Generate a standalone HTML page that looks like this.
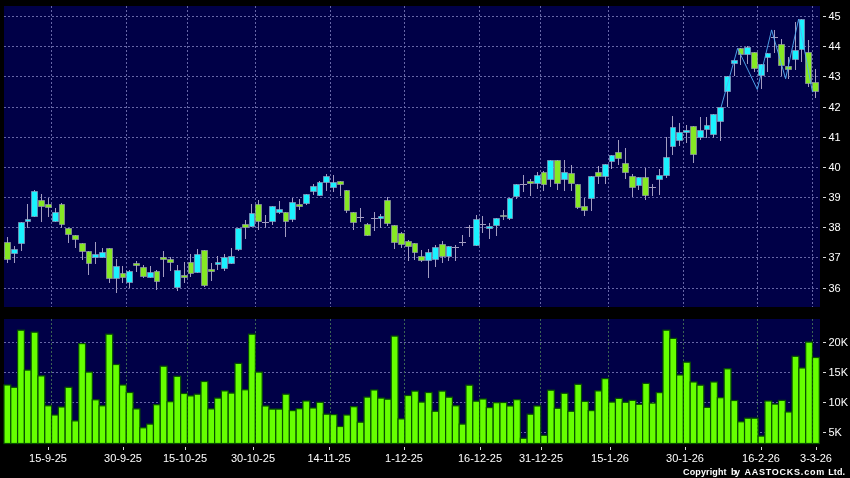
<!DOCTYPE html>
<html><head><meta charset="utf-8"><title>Chart</title>
<style>html,body{margin:0;padding:0;background:#000;}body{width:850px;height:478px;overflow:hidden;}svg{display:block;}text{font-family:"Liberation Sans",Arial,sans-serif;fill:#fff;}</style></head><body>
<svg width="850" height="478" viewBox="0 0 850 478">
<rect x="0" y="0" width="850" height="478" fill="#000"/>
<rect x="4" y="6" width="816" height="301" fill="#000047"/>
<rect x="4" y="319" width="816" height="124.5" fill="#000047"/>
<path d="M4 16.5H820M4 46.5H820M4 76.5H820M4 107.5H820M4 137.5H820M4 167.5H820M4 197.5H820M4 227.5H820M4 257.5H820M4 288.5H820M4 342.5H820M4 372.5H820M4 402.5H820M4 432.5H820M51.5 6V307M51.5 319V443.5M126.5 6V307M126.5 319V443.5M187.5 6V307M187.5 319V443.5M255.5 6V307M255.5 319V443.5M330.5 6V307M330.5 319V443.5M404.5 6V307M404.5 319V443.5M479.5 6V307M479.5 319V443.5M540.5 6V307M540.5 319V443.5M608.5 6V307M608.5 319V443.5M683.5 6V307M683.5 319V443.5M757.5 6V307M757.5 319V443.5M812.5 6V307M812.5 319V443.5" stroke="#6666a6" stroke-width="1" stroke-dasharray="2 2" fill="none" shape-rendering="crispEdges"/>
<g fill="#66ff00" stroke="#085000" stroke-width="1.2"><rect x="4.00" y="385.0" width="6.794" height="58.5"/><rect x="10.79" y="387.3" width="6.794" height="56.2"/><rect x="17.59" y="330.2" width="6.794" height="113.3"/><rect x="24.38" y="370.1" width="6.794" height="73.4"/><rect x="31.18" y="332.2" width="6.794" height="111.3"/><rect x="37.97" y="375.9" width="6.794" height="67.6"/><rect x="44.76" y="405.8" width="6.794" height="37.7"/><rect x="51.56" y="415.0" width="6.794" height="28.5"/><rect x="58.35" y="407.0" width="6.794" height="36.5"/><rect x="65.15" y="387.3" width="6.794" height="56.2"/><rect x="71.94" y="420.9" width="6.794" height="22.6"/><rect x="78.73" y="343.6" width="6.794" height="99.9"/><rect x="85.53" y="372.1" width="6.794" height="71.4"/><rect x="92.32" y="399.8" width="6.794" height="43.7"/><rect x="99.12" y="405.8" width="6.794" height="37.7"/><rect x="105.91" y="334.2" width="6.794" height="109.3"/><rect x="112.70" y="364.5" width="6.794" height="79.0"/><rect x="119.50" y="385.0" width="6.794" height="58.5"/><rect x="126.29" y="392.5" width="6.794" height="51.0"/><rect x="133.09" y="408.9" width="6.794" height="34.6"/><rect x="139.88" y="427.8" width="6.794" height="15.7"/><rect x="146.67" y="424.1" width="6.794" height="19.4"/><rect x="153.47" y="404.7" width="6.794" height="38.8"/><rect x="160.26" y="366.2" width="6.794" height="77.3"/><rect x="167.06" y="401.7" width="6.794" height="41.8"/><rect x="173.85" y="376.3" width="6.794" height="67.2"/><rect x="180.64" y="393.5" width="6.794" height="50.0"/><rect x="187.44" y="395.9" width="6.794" height="47.6"/><rect x="194.23" y="394.2" width="6.794" height="49.3"/><rect x="201.03" y="381.5" width="6.794" height="62.0"/><rect x="207.82" y="408.9" width="6.794" height="34.6"/><rect x="214.61" y="398.1" width="6.794" height="45.4"/><rect x="221.41" y="390.9" width="6.794" height="52.6"/><rect x="228.20" y="393.1" width="6.794" height="50.4"/><rect x="235.00" y="363.4" width="6.794" height="80.1"/><rect x="241.79" y="389.8" width="6.794" height="53.7"/><rect x="248.58" y="334.2" width="6.794" height="109.3"/><rect x="255.38" y="372.1" width="6.794" height="71.4"/><rect x="262.17" y="406.0" width="6.794" height="37.5"/><rect x="268.97" y="409.1" width="6.794" height="34.4"/><rect x="275.76" y="409.1" width="6.794" height="34.4"/><rect x="282.55" y="394.2" width="6.794" height="49.3"/><rect x="289.35" y="410.6" width="6.794" height="32.9"/><rect x="296.14" y="408.7" width="6.794" height="34.8"/><rect x="302.94" y="401.0" width="6.794" height="42.5"/><rect x="309.73" y="408.0" width="6.794" height="35.5"/><rect x="316.52" y="402.3" width="6.794" height="41.2"/><rect x="323.32" y="414.2" width="6.794" height="29.3"/><rect x="330.11" y="414.6" width="6.794" height="28.9"/><rect x="336.91" y="426.5" width="6.794" height="17.0"/><rect x="343.70" y="415.0" width="6.794" height="28.5"/><rect x="350.49" y="406.7" width="6.794" height="36.8"/><rect x="357.29" y="422.2" width="6.794" height="21.3"/><rect x="364.08" y="397.1" width="6.794" height="46.4"/><rect x="370.88" y="390.0" width="6.794" height="53.5"/><rect x="377.67" y="398.1" width="6.794" height="45.4"/><rect x="384.46" y="399.2" width="6.794" height="44.3"/><rect x="391.26" y="336.1" width="6.794" height="107.4"/><rect x="398.05" y="418.9" width="6.794" height="24.6"/><rect x="404.85" y="395.5" width="6.794" height="48.0"/><rect x="411.64" y="391.1" width="6.794" height="52.4"/><rect x="418.43" y="402.1" width="6.794" height="41.4"/><rect x="425.23" y="392.5" width="6.794" height="51.0"/><rect x="432.02" y="411.3" width="6.794" height="32.2"/><rect x="438.82" y="391.1" width="6.794" height="52.4"/><rect x="445.61" y="397.2" width="6.794" height="46.3"/><rect x="452.40" y="405.8" width="6.794" height="37.7"/><rect x="459.20" y="424.1" width="6.794" height="19.4"/><rect x="465.99" y="385.2" width="6.794" height="58.3"/><rect x="472.79" y="401.2" width="6.794" height="42.3"/><rect x="479.58" y="399.0" width="6.794" height="44.5"/><rect x="486.37" y="407.6" width="6.794" height="35.9"/><rect x="493.17" y="402.7" width="6.794" height="40.8"/><rect x="499.96" y="402.5" width="6.794" height="41.0"/><rect x="506.76" y="406.0" width="6.794" height="37.5"/><rect x="513.55" y="399.7" width="6.794" height="43.8"/><rect x="520.34" y="438.3" width="6.794" height="5.2"/><rect x="527.14" y="414.2" width="6.794" height="29.3"/><rect x="533.93" y="406.0" width="6.794" height="37.5"/><rect x="540.73" y="435.3" width="6.794" height="8.2"/><rect x="547.52" y="390.2" width="6.794" height="53.3"/><rect x="554.31" y="408.3" width="6.794" height="35.2"/><rect x="561.11" y="393.3" width="6.794" height="50.2"/><rect x="567.90" y="411.3" width="6.794" height="32.2"/><rect x="574.70" y="384.3" width="6.794" height="59.2"/><rect x="581.49" y="401.4" width="6.794" height="42.1"/><rect x="588.28" y="410.6" width="6.794" height="32.9"/><rect x="595.08" y="390.9" width="6.794" height="52.6"/><rect x="601.87" y="378.6" width="6.794" height="64.9"/><rect x="608.67" y="402.1" width="6.794" height="41.4"/><rect x="615.46" y="398.4" width="6.794" height="45.1"/><rect x="622.25" y="402.3" width="6.794" height="41.2"/><rect x="629.05" y="400.4" width="6.794" height="43.1"/><rect x="635.84" y="404.3" width="6.794" height="39.2"/><rect x="642.64" y="383.4" width="6.794" height="60.1"/><rect x="649.43" y="403.1" width="6.794" height="40.4"/><rect x="656.22" y="392.6" width="6.794" height="50.9"/><rect x="663.02" y="330.2" width="6.794" height="113.3"/><rect x="669.81" y="338.4" width="6.794" height="105.1"/><rect x="676.61" y="375.0" width="6.794" height="68.5"/><rect x="683.40" y="362.2" width="6.794" height="81.3"/><rect x="690.19" y="382.0" width="6.794" height="61.5"/><rect x="696.99" y="385.2" width="6.794" height="58.3"/><rect x="703.78" y="407.4" width="6.794" height="36.1"/><rect x="710.58" y="382.0" width="6.794" height="61.5"/><rect x="717.37" y="397.7" width="6.794" height="45.8"/><rect x="724.16" y="368.8" width="6.794" height="74.7"/><rect x="730.96" y="400.5" width="6.794" height="43.0"/><rect x="737.75" y="421.8" width="6.794" height="21.7"/><rect x="744.55" y="418.2" width="6.794" height="25.3"/><rect x="751.34" y="418.2" width="6.794" height="25.3"/><rect x="758.13" y="436.1" width="6.794" height="7.4"/><rect x="764.93" y="401.0" width="6.794" height="42.5"/><rect x="771.72" y="404.1" width="6.794" height="39.4"/><rect x="778.52" y="400.4" width="6.794" height="43.1"/><rect x="785.31" y="412.0" width="6.794" height="31.5"/><rect x="792.10" y="356.3" width="6.794" height="87.2"/><rect x="798.90" y="368.0" width="6.794" height="75.5"/><rect x="805.69" y="342.1" width="6.794" height="101.4"/><rect x="812.49" y="357.5" width="6.794" height="86.0"/></g>
<path d="M51.5 319V443.5M126.5 319V443.5M187.5 319V443.5M255.5 319V443.5M330.5 319V443.5M404.5 319V443.5M479.5 319V443.5M540.5 319V443.5M608.5 319V443.5M683.5 319V443.5M757.5 319V443.5M812.5 319V443.5" stroke="#186010" stroke-opacity="0.55" stroke-width="1" stroke-dasharray="2 2" fill="none" shape-rendering="crispEdges"/>
<path d="M7.5 237V263M14.5 246V263M21.5 222V251M27.5 204V228M34.5 190V217M41.5 194V222M48.5 198V217M55.5 208V222M61.5 203V228M68.5 228V243M75.5 235V248M82.5 243V260M88.5 251V275M95.5 242V264M102.5 248V258M109.5 248V283M116.5 259V293M122.5 266V283M129.5 270V288M136.5 261V272M143.5 265V278M150.5 266V278M156.5 270V290M163.5 251V277M170.5 257V271M177.5 265V291M184.5 262V283M190.5 254V277M197.5 249V273M204.5 250V287M211.5 263V281M217.5 256V270M224.5 254V271M231.5 248V264M238.5 228V251M245.5 220V239M251.5 204V227M258.5 200V230M265.5 215V228M262 222.5H269M272.5 206V225M279.5 201V214M285.5 212V237M292.5 198V222M299.5 199V210M306.5 194V205M313.5 184V195M319.5 181V196M326.5 174V191M333.5 175V192M340.5 181V196M346.5 190V213M353.5 212V230M360.5 208V222M357 217.5H364M367.5 223V236M374.5 212V231M371 218.5H378M380.5 214V228M387.5 197V226M394.5 225V249M401.5 232V248M408.5 240V261M414.5 243V260M421.5 250V262M428.5 249V278M435.5 245V267M442.5 241V263M448.5 246V261M455.5 245V261M452 247.5H459M462.5 235V246M459 242.5H466M469.5 225V237M466 227.5H473M476.5 215V246M482.5 216V233M480 224.5H486M489.5 223V239M496.5 218V236M503.5 210V220M509.5 198V220M516.5 184V199M523.5 175V192M520 184.5H527M530.5 179V196M537.5 172V189M543.5 171V191M550.5 160V187M557.5 160V190M564.5 160V191M571.5 165V191M577.5 184V209M584.5 198V216M591.5 176V211M598.5 166V184M605.5 164V184M611.5 155V169M618.5 140V165M625.5 148V179M632.5 174V197M638.5 177V190M645.5 168V200M652.5 184V196M649 187.5H656M659.5 169V195M666.5 137V178M672.5 116V155M679.5 123V146M686.5 125V143M693.5 126V163M700.5 117V140M706.5 117V138M713.5 114V138M720.5 107V141M727.5 76V107M734.5 60V76M740.5 48V65M747.5 46V64M754.5 52V72M761.5 64V89M767.5 53V72M774.5 30V53M771 37.5H778M781.5 39V76M788.5 57V79M795.5 22V70M801.5 19V62M808.5 40V87M815.5 69V98" stroke="#a29cc0" stroke-width="1" fill="none"/>
<g fill="#86e824" stroke="#a29cc0" stroke-opacity="0.6" stroke-width="1"><rect x="4.5" y="242.5" width="6" height="17"/><rect x="38.5" y="200.5" width="6" height="6"/><rect x="45.5" y="204.5" width="6" height="3"/><rect x="59.5" y="204.5" width="5" height="20"/><rect x="65.5" y="228.5" width="6" height="6"/><rect x="72.5" y="235.5" width="6" height="4"/><rect x="79.5" y="243.5" width="6" height="8"/><rect x="86.5" y="251.5" width="5" height="12"/><rect x="106.5" y="248.5" width="6" height="30"/><rect x="120.5" y="273.5" width="5" height="4"/><rect x="133.5" y="263.5" width="6" height="2"/><rect x="140.5" y="267.5" width="6" height="9"/><rect x="154.5" y="271.5" width="5" height="10"/><rect x="160.5" y="257.5" width="6" height="2"/><rect x="167.5" y="259.5" width="6" height="3"/><rect x="181.5" y="275.5" width="6" height="2"/><rect x="188.5" y="262.5" width="5" height="11"/><rect x="201.5" y="250.5" width="6" height="35"/><rect x="208.5" y="269.5" width="6" height="2"/><rect x="242.5" y="224.5" width="6" height="3"/><rect x="255.5" y="204.5" width="6" height="17"/><rect x="283.5" y="212.5" width="5" height="9"/><rect x="296.5" y="204.5" width="6" height="2"/><rect x="337.5" y="181.5" width="6" height="3"/><rect x="344.5" y="190.5" width="5" height="20"/><rect x="350.5" y="212.5" width="6" height="10"/><rect x="364.5" y="224.5" width="6" height="11"/><rect x="384.5" y="200.5" width="6" height="23"/><rect x="391.5" y="225.5" width="6" height="17"/><rect x="398.5" y="233.5" width="6" height="11"/><rect x="405.5" y="241.5" width="6" height="5"/><rect x="412.5" y="243.5" width="5" height="9"/><rect x="418.5" y="256.5" width="6" height="4"/><rect x="439.5" y="244.5" width="6" height="12"/><rect x="500.5" y="215.5" width="6" height="1"/><rect x="527.5" y="181.5" width="6" height="2"/><rect x="541.5" y="172.5" width="5" height="12"/><rect x="554.5" y="160.5" width="6" height="23"/><rect x="568.5" y="173.5" width="6" height="10"/><rect x="575.5" y="184.5" width="5" height="23"/><rect x="581.5" y="206.5" width="6" height="4"/><rect x="595.5" y="172.5" width="6" height="4"/><rect x="615.5" y="152.5" width="6" height="6"/><rect x="622.5" y="163.5" width="6" height="9"/><rect x="629.5" y="176.5" width="6" height="11"/><rect x="642.5" y="177.5" width="6" height="18"/><rect x="690.5" y="126.5" width="6" height="28"/><rect x="738.5" y="48.5" width="5" height="6"/><rect x="751.5" y="52.5" width="6" height="16"/><rect x="778.5" y="44.5" width="6" height="21"/><rect x="785.5" y="66.5" width="6" height="3"/><rect x="805.5" y="52.5" width="6" height="31"/><rect x="812.5" y="82.5" width="6" height="9"/></g>
<g fill="#1af2ff" stroke="#a29cc0" stroke-opacity="0.6" stroke-width="1"><rect x="11.5" y="249.5" width="6" height="4"/><rect x="18.5" y="222.5" width="6" height="21"/><rect x="25.5" y="219.5" width="5" height="2"/><rect x="31.5" y="191.5" width="6" height="25"/><rect x="52.5" y="212.5" width="6" height="9"/><rect x="92.5" y="254.5" width="6" height="3"/><rect x="99.5" y="252.5" width="6" height="5"/><rect x="113.5" y="266.5" width="6" height="12"/><rect x="126.5" y="271.5" width="6" height="11"/><rect x="147.5" y="272.5" width="6" height="5"/><rect x="174.5" y="270.5" width="6" height="17"/><rect x="194.5" y="254.5" width="6" height="18"/><rect x="215.5" y="262.5" width="5" height="2"/><rect x="221.5" y="257.5" width="6" height="11"/><rect x="228.5" y="256.5" width="6" height="7"/><rect x="235.5" y="228.5" width="6" height="21"/><rect x="249.5" y="213.5" width="5" height="13"/><rect x="269.5" y="206.5" width="6" height="15"/><rect x="276.5" y="209.5" width="6" height="3"/><rect x="289.5" y="202.5" width="6" height="17"/><rect x="303.5" y="194.5" width="6" height="9"/><rect x="310.5" y="186.5" width="6" height="5"/><rect x="317.5" y="182.5" width="5" height="13"/><rect x="323.5" y="176.5" width="6" height="6"/><rect x="330.5" y="182.5" width="6" height="5"/><rect x="378.5" y="216.5" width="5" height="2"/><rect x="425.5" y="252.5" width="6" height="8"/><rect x="432.5" y="247.5" width="6" height="12"/><rect x="446.5" y="246.5" width="5" height="10"/><rect x="473.5" y="219.5" width="6" height="26"/><rect x="486.5" y="226.5" width="6" height="2"/><rect x="493.5" y="218.5" width="6" height="7"/><rect x="507.5" y="198.5" width="5" height="20"/><rect x="513.5" y="184.5" width="6" height="12"/><rect x="534.5" y="175.5" width="6" height="8"/><rect x="547.5" y="160.5" width="6" height="19"/><rect x="561.5" y="172.5" width="6" height="7"/><rect x="588.5" y="176.5" width="6" height="22"/><rect x="602.5" y="164.5" width="6" height="12"/><rect x="609.5" y="155.5" width="5" height="6"/><rect x="636.5" y="177.5" width="5" height="8"/><rect x="656.5" y="175.5" width="6" height="4"/><rect x="663.5" y="157.5" width="6" height="18"/><rect x="670.5" y="127.5" width="5" height="19"/><rect x="676.5" y="132.5" width="6" height="8"/><rect x="683.5" y="130.5" width="6" height="2"/><rect x="697.5" y="130.5" width="6" height="7"/><rect x="704.5" y="125.5" width="5" height="4"/><rect x="710.5" y="114.5" width="6" height="20"/><rect x="717.5" y="107.5" width="6" height="14"/><rect x="724.5" y="76.5" width="6" height="15"/><rect x="731.5" y="60.5" width="6" height="3"/><rect x="744.5" y="47.5" width="6" height="7"/><rect x="758.5" y="64.5" width="6" height="11"/><rect x="765.5" y="53.5" width="5" height="4"/><rect x="792.5" y="50.5" width="6" height="9"/><rect x="799.5" y="19.5" width="5" height="30"/></g>
<polyline points="721,107.4 737.6,48.3 757.3,89.5 771.6,29.9 785.6,78.7 798.6,19.1 812.5,92.2" stroke="#52aef5" stroke-width="1" stroke-opacity="0.9" fill="none"/>
<text x="828.5" y="20" font-size="11">45</text>
<text x="828.5" y="50" font-size="11">44</text>
<text x="828.5" y="80" font-size="11">43</text>
<text x="828.5" y="111" font-size="11">42</text>
<text x="828.5" y="141" font-size="11">41</text>
<text x="828.5" y="171" font-size="11">40</text>
<text x="828.5" y="201" font-size="11">39</text>
<text x="828.5" y="231" font-size="11">38</text>
<text x="828.5" y="261" font-size="11">37</text>
<text x="828.5" y="292" font-size="11">36</text>
<text x="828.5" y="346" font-size="11">20K</text>
<text x="828.5" y="376" font-size="11">15K</text>
<text x="828.5" y="406" font-size="11">10K</text>
<text x="828.5" y="436" font-size="11">5K</text>
<text x="48" y="462" font-size="11" text-anchor="middle">15-9-25</text>
<text x="123" y="462" font-size="11" text-anchor="middle">30-9-25</text>
<text x="185" y="462" font-size="11" text-anchor="middle">15-10-25</text>
<text x="253" y="462" font-size="11" text-anchor="middle">30-10-25</text>
<text x="329" y="462" font-size="11" text-anchor="middle">14-11-25</text>
<text x="404" y="462" font-size="11" text-anchor="middle">1-12-25</text>
<text x="480" y="462" font-size="11" text-anchor="middle">16-12-25</text>
<text x="541" y="462" font-size="11" text-anchor="middle">31-12-25</text>
<text x="610" y="462" font-size="11" text-anchor="middle">15-1-26</text>
<text x="685" y="462" font-size="11" text-anchor="middle">30-1-26</text>
<text x="761" y="462" font-size="11" text-anchor="middle">16-2-26</text>
<text x="816" y="462" font-size="11" text-anchor="middle">3-3-26</text>
<path d="M823 16.5H826M823 46.5H826M823 76.5H826M823 107.5H826M823 137.5H826M823 167.5H826M823 197.5H826M823 227.5H826M823 257.5H826M823 288.5H826M823 342.5H826M823 372.5H826M823 402.5H826M823 432.5H826M48.5 447V450M123.5 447V450M185.5 447V450M253.5 447V450M329.5 447V450M404.5 447V450M480.5 447V450M541.5 447V450M610.5 447V450M685.5 447V450M761.5 447V450M816.5 447V450" stroke="#d8d8d8" stroke-width="1" fill="none" shape-rendering="crispEdges"/>
<text x="683.1" y="475" font-size="9" font-weight="bold" textLength="43.5" lengthAdjust="spacing">Copyright</text>
<text x="731" y="475" font-size="9" font-weight="bold" textLength="9.1" lengthAdjust="spacing">by</text>
<text x="744.4" y="475" font-size="9" font-weight="bold" textLength="79.8" lengthAdjust="spacing">AASTOCKS.com</text>
<text x="828.2" y="475" font-size="9" font-weight="bold" textLength="16.8" lengthAdjust="spacing">Ltd.</text>
</svg></body></html>
